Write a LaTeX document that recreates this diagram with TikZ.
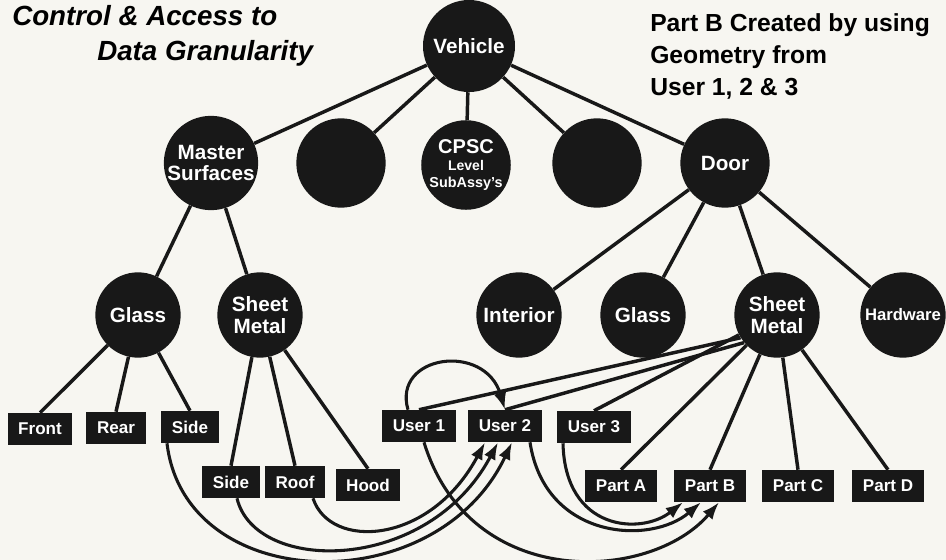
\documentclass[tikz,border=0pt]{standalone}
\usepackage{fontspec}
\setmainfont{Liberation Sans}
\usetikzlibrary{arrows.meta,calc}

\definecolor{paper}{RGB}{247,246,241}
\definecolor{ink}{RGB}{24,24,24}

\tikzset{
  unit/.style={circle,fill=ink,text=white,inner sep=0pt,minimum size=67pt,
    align=center,font=\bfseries\fontsize{15.5}{16}\selectfont},
  subunit/.style={unit,minimum size=64pt},
  item/.style={rectangle,fill=ink,text=white,inner xsep=8pt,inner ysep=0pt,
    minimum height=24pt,font=\bfseries\fontsize{12.8}{14}\selectfont},
  link/.style={draw=ink,line width=2.6pt},
  feed/.style={draw=ink,line width=2.3pt,-{Latex[length=13pt,width=9.5pt]}},
  title/.style={inner sep=0pt,font=\bfseries\itshape\fontsize{20.8}{24}\selectfont},
  remark/.style={inner sep=0pt,align=left,font=\bfseries\fontsize{18.5}{24}\selectfont}
}

\begin{document}
\begin{tikzpicture}[x=0.75pt,y=-0.75pt]

\useasboundingbox (0,0) rectangle (946,560);
\fill[paper] (0,0) rectangle (946,560);

% Titles
\node[title,anchor=base west] (head1) at (12,26) {Control \& Access to};
\node[title,anchor=base west] (head2) at (97,61) {Data Granularity};
\node[remark,anchor=north west] (note) at (650,13)
  {Part B Created by using\\Geometry from\\User 1, 2 \& 3};

% Vehicle and sub assemblies
\node[unit,minimum size=69pt] (vehicle) at (469,46) {Vehicle};

\node[unit] (master) at (211,163) {Master\\Surfaces};
\node[unit] (blankA) at (341,163) {};
\node[unit,font=\bfseries\fontsize{10.8}{13}\selectfont] (cpsc) at (466,165)
  {{\fontsize{15}{15}\selectfont CPSC}\\{\fontsize{10.5}{10.5}\selectfont Level}\\SubAssy's};
\node[unit] (blankB) at (597,163) {};
\node[unit] (door) at (725,163) {Door};

% Components
\node[subunit] (glassL) at (138,315) {Glass};
\node[subunit] (metalL) at (260,315) {Sheet\\Metal};
\node[subunit] (interior) at (519,315) {Interior};
\node[subunit] (glassR) at (643,315) {Glass};
\node[subunit] (metalR) at (777,315) {Sheet\\Metal};
\node[subunit,font=\bfseries\fontsize{12.5}{14}\selectfont] (hardware) at (903,315) {Hardware};

% Data items
\foreach \n/\x/\y/\t in {%
front/40/429/Front,rear/116/428/Rear,sideG/190/427/Side,
sideM/231/482/Side,roof/295/482/Roof,hood/368/485/Hood,
user1/419/426/User 1,user2/505/426/User 2,user3/594/427/User 3,
partA/621/486/Part A,partB/710/486/Part B,partC/798/486/Part C,partD/888/486/Part D%
}
{
\node[item] (\n) at (\x,\y) {\t};
}

% Tree
\foreach \a/\b in {%
vehicle/master,vehicle/blankA,vehicle/cpsc,vehicle/blankB,vehicle/door,
master/glassL,master/metalL,
door/interior,door/glassR,door/metalR,door/hardware%
}
{
\draw[link] (\a) -- (\b);
}

\foreach \a/\b in {%
glassL/front,glassL/rear,glassL/sideG,
metalL/sideM,metalL/roof,metalL/hood,
metalR/user3,metalR/partA,metalR/partB,metalR/partC,metalR/partD%
}
{
\draw[link] (\a) -- (\b.north);
}

\draw[link] (metalR.212) -- (user1.north);
\draw[link] (metalR.220) -- (user2.north);

% Geometry into User 2
\draw[feed] ($(sideG.south)+(-23,0)$) .. controls +(18,152) and +(-76,160) .. ($(user2.south)+(7,0)$);
\draw[feed] ($(sideM.south)+(6,0)$) .. controls +(18,76) and +(-70,132) .. ($(user2.south)+(-7,0)$);
\draw[feed] ($(roof.south)+(18,0)$) .. controls +(17,52) and +(-55,103) .. ($(user2.south)+(-20,0)$);
\draw[feed] ($(user1.north)+(-11,0)$) .. controls +(-16,-55) and +(-20,-68) .. (user2.north);

% Geometry into Part B
\draw[feed] ($(user1.south)+(5,0)$) .. controls +(46,150) and +(-68,80) .. ($(partB.south)+(9,0)$);
\draw[feed] ($(user2.south)+(25,0)$) .. controls +(15,98) and +(-50,43) .. ($(partB.south)+(-9,0)$);
\draw[feed] ($(user3.south)+(-31,0)$) .. controls +(2,88) and +(-42,33) .. ($(partB.south)+(-27,0)$);

\end{tikzpicture}
\end{document}
